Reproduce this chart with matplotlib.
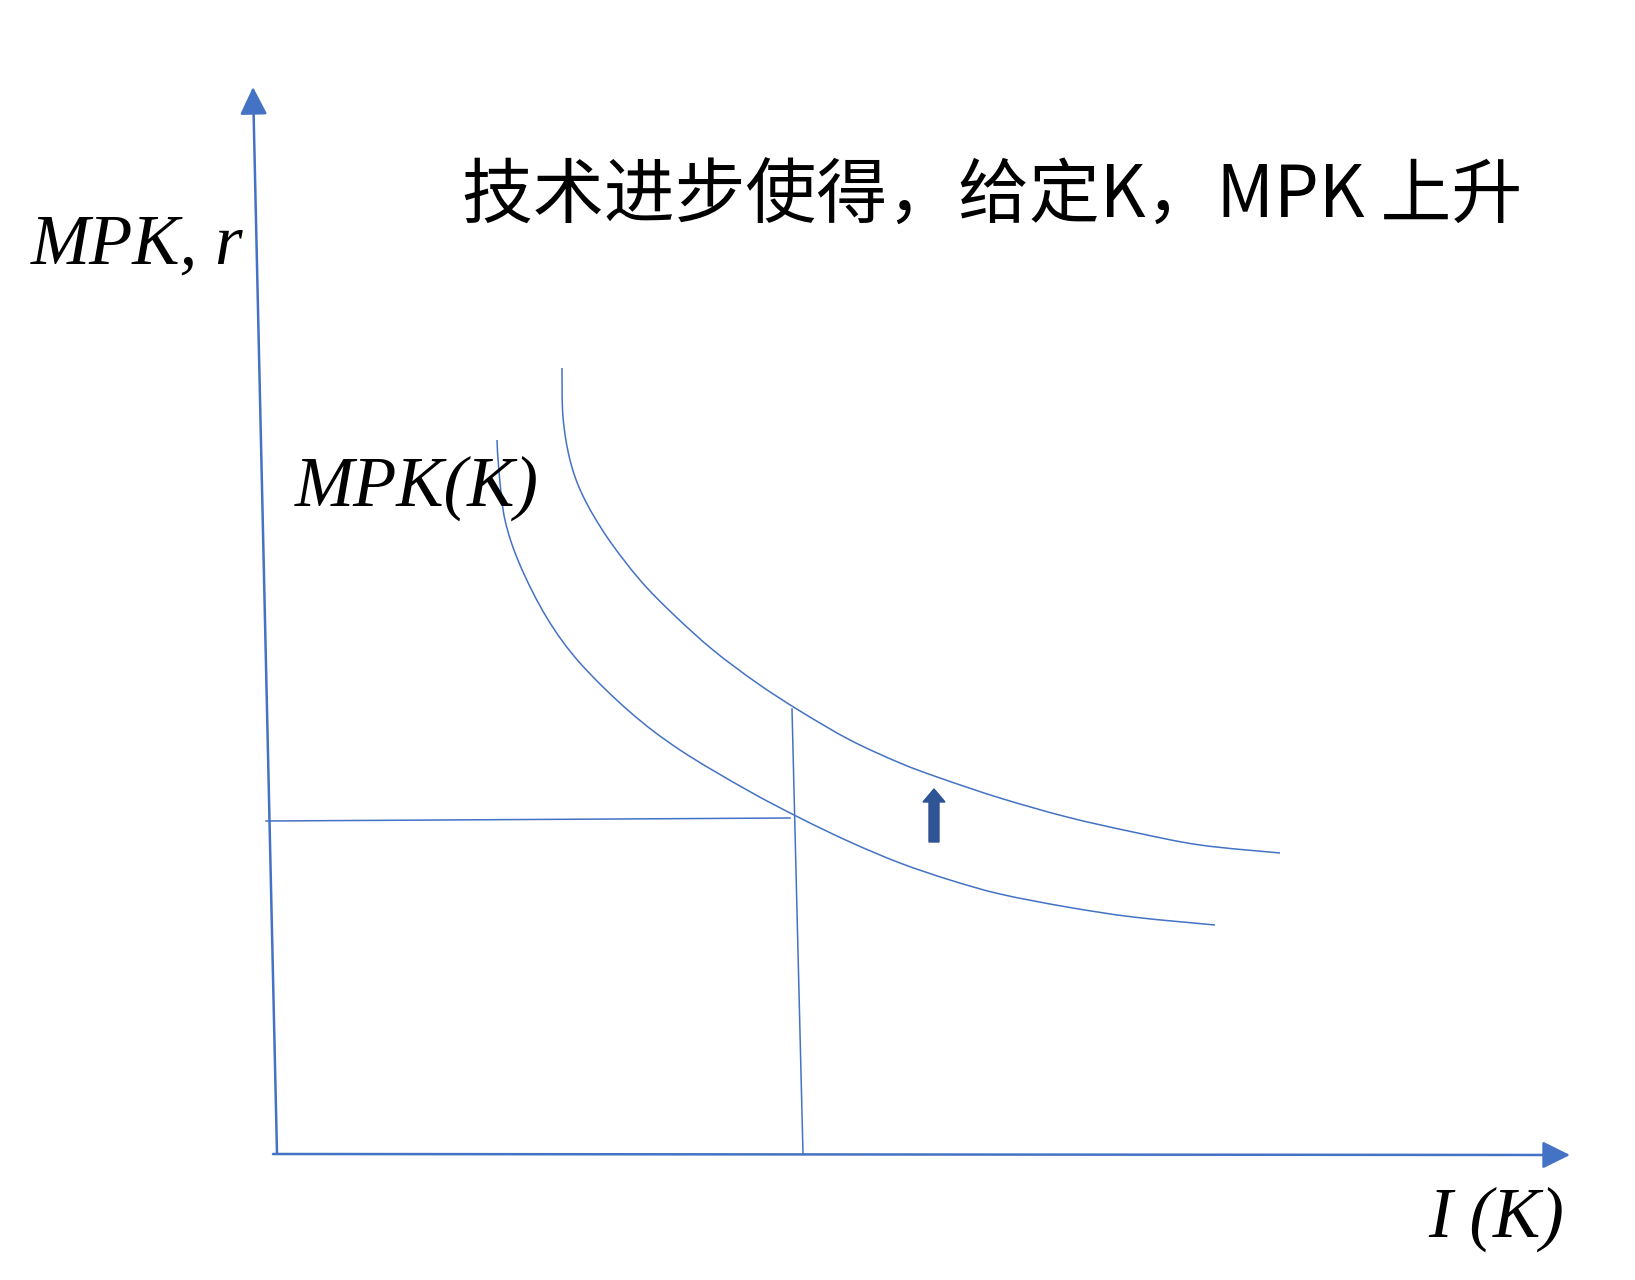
import matplotlib
matplotlib.use("Agg")
import matplotlib.pyplot as plt
from matplotlib.patches import FancyArrow, PathPatch
from matplotlib.path import Path

# ---- data (diagram coordinates, pixel space of the 1635x1280 canvas) ----
title_text = "技术进步使得，给定K，MPK 上升"
y_label = "MPK, r"
x_label = "I (K)"
curve_label = "MPK(K)"

lower_x = [497, 499, 505, 520, 547, 580, 630, 680, 747, 800, 850, 900, 950, 1000, 1067, 1133, 1215]
lower_y = [440, 472, 520, 565, 618, 663, 712, 750, 790, 818, 842, 863, 880, 894, 907, 917, 925]

upper_x = [562, 563, 570, 583, 607, 640, 673, 713, 757, 800, 850, 900, 940, 1000, 1067, 1133, 1200, 1280]
upper_y = [368, 417, 460, 496, 537, 580, 614, 650, 683, 711, 740, 763, 778, 798, 817, 832, 845, 853]

hline_x = [266, 790]
hline_y = [821, 818]
vline_x = [792, 803]
vline_y = [709, 1154]

xaxis_start = (273, 1154)
xaxis_end = (1570, 1155)
yaxis_start = (277, 1154)
yaxis_end = (253, 87)

BLUE = "#4472C4"
DARK = "#2F5597"


def smooth_path(xs, ys):
    """Catmull-Rom through the given points, expressed as cubic Bezier segments."""
    pts = list(zip(xs, ys))
    verts = [pts[0]]
    codes = [Path.MOVETO]
    n = len(pts)
    for i in range(n - 1):
        p0 = pts[i - 1] if i > 0 else pts[i]
        p1 = pts[i]
        p2 = pts[i + 1]
        p3 = pts[i + 2] if i + 2 < n else pts[i + 1]
        c1 = (p1[0] + (p2[0] - p0[0]) / 6.0, p1[1] + (p2[1] - p0[1]) / 6.0)
        c2 = (p2[0] - (p3[0] - p1[0]) / 6.0, p2[1] - (p3[1] - p1[1]) / 6.0)
        verts += [c1, c2, p2]
        codes += [Path.CURVE4] * 3
    return Path(verts, codes)


fig = plt.figure(figsize=(16.35, 12.8), dpi=100)
ax = fig.add_axes([0, 0, 1, 1])
ax.set_xlim(0, 1635)
ax.set_ylim(1280, 0)
ax.axis("off")

# axes with arrows
for s, e in [(xaxis_start, xaxis_end), (yaxis_start, yaxis_end)]:
    ax.annotate("", xy=e, xytext=s,
                arrowprops=dict(arrowstyle="-|>,head_length=0.85,head_width=0.42",
                                mutation_scale=20, color=BLUE, lw=1.8,
                                shrinkA=0, shrinkB=0))

# curves
for xs, ys in [(lower_x, lower_y), (upper_x, upper_y)]:
    ax.add_patch(PathPatch(smooth_path(xs, ys), facecolor="none",
                           edgecolor=BLUE, lw=1.1))

# guide lines
ax.plot(hline_x, hline_y, color=BLUE, lw=1.1)
ax.plot(vline_x, vline_y, color=BLUE, lw=1.1)

# shift arrow
ax.add_patch(FancyArrow(934, 842, 0, -53, width=10, head_width=22, head_length=13,
                        length_includes_head=True, facecolor=DARK,
                        edgecolor="#2F528F", lw=1))

# texts
ax.text(992, 197, title_text, fontsize=51, ha="center", va="center",
        family=["Noto Sans CJK SC", "DejaVu Sans"], weight="light", color="black")
ax.text(31, 263, y_label, fontsize=51, ha="left", va="baseline",
        family="Liberation Serif", style="italic", color="black")
ax.text(295, 506, curve_label, fontsize=51, ha="left", va="baseline",
        family="Liberation Serif", style="italic", color="black")
ax.text(1428, 1237, x_label, fontsize=51, ha="left", va="baseline",
        family="Liberation Serif", style="italic", color="black")

fig.savefig("out.png", dpi=100, facecolor="white")
